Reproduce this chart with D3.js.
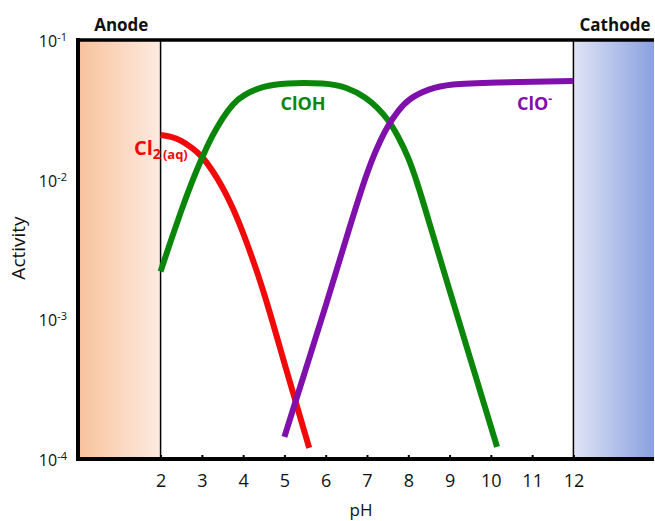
<!DOCTYPE html>
<html>
<head>
<meta charset="utf-8">
<script src="https://cdn.jsdelivr.net/npm/d3@7"></script>
<style>
  body { margin: 0; background: #fff; }
  text { font-family: "Open Sans", "Noto Sans", sans-serif; }
</style>
</head>
<body>
<div id="chart"></div>
<script>
// ************ data ************
const pHTicks = [2, 3, 4, 5, 6, 7, 8, 9, 10, 11, 12]
const activityTicks = [1e-1, 1e-2, 1e-3, 1e-4]
const activityExps = ["-1", "-2", "-3", "-4"]

const cl2PH = [2.0, 2.25, 2.5, 2.75, 3.0, 3.25, 3.5, 3.75, 4.0, 4.5, 5.0, 5.6]
const cl2Act = [0.0209, 0.0204, 0.0191, 0.0170, 0.0148, 0.0117, 0.0089, 0.0063, 0.0042, 0.00162, 0.00048, 0.00012]

const cloHPH = [2.0, 2.25, 2.5, 2.75, 3.0, 3.25, 3.5, 3.75, 4.0, 4.5, 5.0, 6.0, 6.5, 7.0, 7.25, 7.5, 7.75, 8.0, 8.25, 8.5, 9.0, 9.5, 10.15]
const cloHAct = [0.0022, 0.00367, 0.00601, 0.00952, 0.01435, 0.0206, 0.0277, 0.0349, 0.0405, 0.0469, 0.0493, 0.0493, 0.0462, 0.0385, 0.0327, 0.0273, 0.0206, 0.0146, 0.00891, 0.00501, 0.00161, 0.000526, 0.000122]

const cloPH = [5.0, 5.5, 6.0, 6.5, 7.0, 7.25, 7.5, 7.75, 8.0, 8.5, 9.0, 10.0, 12.0]
const cloAct = [0.000144, 0.000425, 0.00124, 0.00385, 0.0114, 0.0172, 0.0243, 0.0311, 0.0379, 0.0447, 0.0485, 0.0497, 0.0509]

// ************ layout ************
const W = 655, H = 521
const plotL = 78, plotR = 656, plotT = 40, plotB = 459

const x = d3.scaleLinear().domain([0, 14]).range([plotL, plotR])
const y = d3.scaleLog().domain([1e-4, 1e-1]).range([plotB, plotT])

const svg = d3.select("#chart")
  .append("svg")
  .attr("width", W)
  .attr("height", H)

// gradients for electrode bands
const defs = svg.append("defs")
const gA = defs.append("linearGradient").attr("id", "anodeGrad")
gA.append("stop").attr("offset", "0%").attr("stop-color", "#f8c29c")
gA.append("stop").attr("offset", "100%").attr("stop-color", "#fdebe1")
const gC = defs.append("linearGradient").attr("id", "cathodeGrad")
gC.append("stop").attr("offset", "0%").attr("stop-color", "#e0e4f6")
gC.append("stop").attr("offset", "100%").attr("stop-color", "#8aa1df")

svg.append("rect")
  .attr("x", x(0)).attr("y", plotT)
  .attr("width", x(2) - x(0)).attr("height", plotB - plotT)
  .attr("fill", "url(#anodeGrad)")

svg.append("rect")
  .attr("x", x(12)).attr("y", plotT)
  .attr("width", x(14) - x(12) - 2).attr("height", plotB - plotT)
  .attr("fill", "url(#cathodeGrad)")

// thin boundary lines at pH 2 and 12
svg.selectAll(".bound")
  .data([2, 12])
  .enter()
  .append("line")
  .attr("class", "bound")
  .attr("x1", d => x(d)).attr("x2", d => x(d))
  .attr("y1", plotT).attr("y2", plotB)
  .attr("stroke", "#000")
  .attr("stroke-width", 1.5)

// top border
svg.append("line")
  .attr("x1", plotL - 2).attr("x2", plotR - 2)
  .attr("y1", plotT).attr("y2", plotT)
  .attr("stroke", "#000")
  .attr("stroke-width", 3.5)

// curves
const line = d3.line()
  .x(d => x(d[0]))
  .y(d => y(d[1]))
  .curve(d3.curveBasis)

const series = [
  { ph: cl2PH, act: cl2Act, color: "#f00a0a" },
  { ph: cloHPH, act: cloHAct, color: "#0a870a" },
  { ph: cloPH, act: cloAct, color: "#8010ac" }
]

svg.selectAll(".curve")
  .data(series)
  .enter()
  .append("path")
  .attr("class", "curve")
  .attr("d", d => line(d.ph.map((p, i) => [p, d.act[i]])))
  .attr("fill", "none")
  .attr("stroke", d => d.color)
  .attr("stroke-width", 6)

// X-axis
const xAxis = d3.axisBottom(x)
  .tickValues(pHTicks)
  .tickFormat(d3.format("d"))
  .tickSizeInner(-4)
  .tickSizeOuter(0)
  .tickPadding(15)

const gx = svg.append("g")
  .attr("transform", "translate(0," + plotB + ")")
  .call(xAxis)
gx.select(".domain").attr("stroke-width", 4).attr("d", "M" + (plotL - 2) + ",0H" + (plotR - 2))
gx.selectAll(".tick line").attr("stroke-width", 2)
gx.selectAll(".tick text")
  .style("font-size", "18px")
  .attr("fill", "#111")

// Y-axis
const yAxis = d3.axisLeft(y)
  .tickValues(activityTicks)
  .tickSize(0)
  .tickPadding(11)
  .tickFormat(() => "")

const gy = svg.append("g")
  .attr("transform", "translate(" + plotL + ",0)")
  .call(yAxis)
gy.select(".domain").attr("stroke-width", 4).attr("d", "M0," + (plotT - 2) + "V" + (plotB + 2))
gy.selectAll(".tick text")
  .style("font-size", "16px")
  .attr("fill", "#111")
  .attr("dy", "0.4em")
  .each(function(d, i) {
    const t = d3.select(this)
    t.append("tspan").text("10")
    t.append("tspan").text(activityExps[i])
      .style("font-size", "11px")
      .attr("dy", "-6")
  })

// axis titles
svg.append("text")
  .attr("x", 361)
  .attr("y", 516)
  .attr("text-anchor", "middle")
  .style("font-size", "17px")
  .attr("fill", "#111")
  .text("pH")

svg.append("text")
  .attr("transform", "translate(25,248) rotate(-90)")
  .attr("text-anchor", "middle")
  .style("font-size", "19px")
  .attr("fill", "#111")
  .text("Activity")

// electrode labels
svg.append("text")
  .attr("x", (x(0) + x(2)) / 2 + 2)
  .attr("y", 31)
  .attr("text-anchor", "middle")
  .style("font-size", "17px")
  .style("font-weight", "bold")
  .attr("fill", "#111")
  .text("Anode")

svg.append("text")
  .attr("x", 615)
  .attr("y", 31)
  .attr("text-anchor", "middle")
  .style("font-size", "17px")
  .style("font-weight", "bold")
  .attr("fill", "#111")
  .text("Cathode")

// species labels
const cl2Label = svg.append("text")
  .attr("x", 134)
  .attr("y", 155)
  .style("font-weight", "bold")
  .attr("fill", "#f00a0a")
cl2Label.append("tspan").text("Cl").style("font-size", "20px")
cl2Label.append("tspan").text("2").style("font-size", "14px").attr("dy", 4)
cl2Label.append("tspan").text("(aq)").style("font-size", "13px").attr("dx", 2)

svg.append("text")
  .attr("x", 303)
  .attr("y", 110)
  .attr("text-anchor", "middle")
  .style("font-size", "18px")
  .style("font-weight", "bold")
  .attr("fill", "#0a870a")
  .text("ClOH")

const cloLabel = svg.append("text")
  .attr("x", 517)
  .attr("y", 110)
  .style("font-weight", "bold")
  .attr("fill", "#8010ac")
cloLabel.append("tspan").text("ClO").style("font-size", "18px")
cloLabel.append("tspan").text("-").style("font-size", "12px").attr("dy", -7)
</script>
</body>
</html>
